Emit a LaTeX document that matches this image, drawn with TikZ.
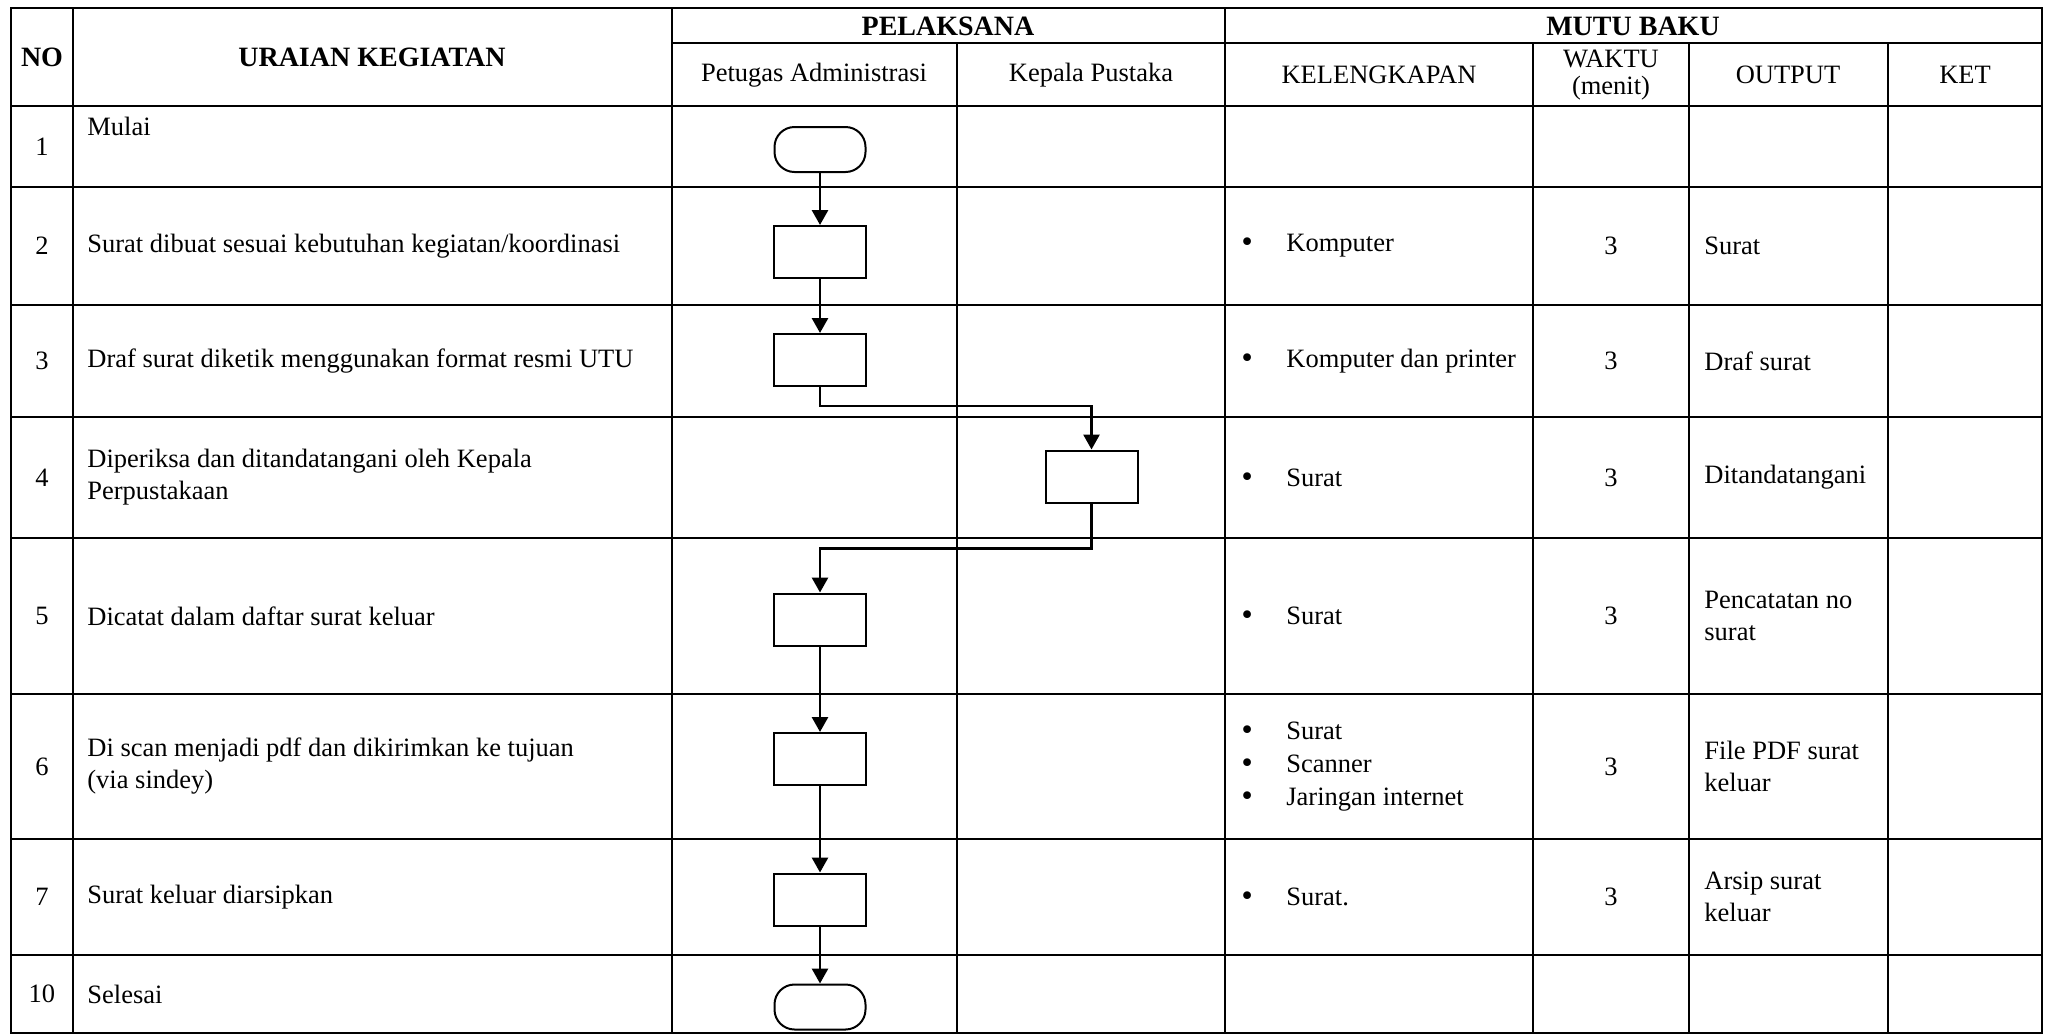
\documentclass[tikz,border=0pt]{standalone}
\usepackage{fontspec}
\setmainfont{Liberation Serif}
\newfontfamily\bulletfont{DejaVu Sans}
\usepackage{tikz}
\usetikzlibrary{arrows.meta,positioning}
\newcommand{\kitem}{\makebox[23.5pt][l]{\bulletfont •}}

\tikzset{
  grid/.style={line width=1.3pt},
  proc/.style={draw, line width=1pt, minimum width=46pt, minimum height=26pt, inner sep=0pt},
  term/.style={proc, rounded corners=10pt, minimum width=45.5pt, minimum height=22.5pt},
  flow/.style={-{Triangle[length=7.5pt,width=8pt]}, line width=1.4pt},
  txt/.style={font=\fontsize{13.25}{16}\selectfont, inner sep=0pt},
  head/.style={font=\fontsize{14}{16}\selectfont\bfseries, inner sep=0pt},
  lefttxt/.style={txt, anchor=west, align=left},
}

\begin{document}
\begin{tikzpicture}[x=0.5pt, y=-0.5pt]
\useasboundingbox (0,0) rectangle (2045,1035);
% table grid
\draw[grid] (11,8) rectangle (2042,1033);
\draw[grid] (672,43) -- (2042,43);
\draw[grid] (11,106) -- (2042,106) (11,187) -- (2042,187) (11,305) -- (2042,305)
  (11,417) -- (2042,417) (11,538) -- (2042,538) (11,694) -- (2042,694)
  (11,839) -- (2042,839) (11,955) -- (2042,955);
\draw[grid] (73,8) -- (73,1033) (672,8) -- (672,1033) (1225,8) -- (1225,1033);
\draw[grid] (957,43) -- (957,1033) (1533,43) -- (1533,1033) (1689,43) -- (1689,1033)
  (1888,43) -- (1888,1033);

% headers
\node[head] (no) at (42,57) {NO};
\node[head] (uraian) at (372,57) {URAIAN KEGIATAN};
\node[head] (pelaksana) at (948,26) {PELAKSANA};
\node[head] (mutu) at (1633,26) {MUTU BAKU};
\node[txt] (petugas) at (814,75) {Petugas Administrasi};
\node[txt] (kepala) at (1091,75) {Kepala Pustaka};
\node[txt] (lengkap) at (1379,75) {KELENGKAPAN};
\node[txt, align=center, font=\fontsize{13.25}{13.5}\selectfont] (waktu) at (1611,75) {WAKTU\\(menit)};
\node[txt] (output) at (1788,75) {OUTPUT};
\node[txt] (ket) at (1965,75) {KET};

% numbers and activities
\node[txt] (n1) at (42,146.5) {1};
\node[txt] (n2) at (42,246) {2};
\node[txt] (n3) at (42,361) {3};
\node[txt] (n4) at (42,477.5) {4};
\node[txt] (n5) at (42,616) {5};
\node[txt] (n6) at (42,766.5) {6};
\node[txt] (n7) at (42,897) {7};
\node[txt] (n10) at (42,994) {10};
\node[lefttxt] (u1) at (87,126) {Mulai};
\node[lefttxt] (u2) at (87,246) {Surat dibuat sesuai kebutuhan kegiatan/koordinasi};
\node[lefttxt] (u3) at (87,361) {Draf surat diketik menggunakan format resmi UTU};
\node[lefttxt] (u4) at (87,477.5) {Diperiksa dan ditandatangani oleh Kepala\\Perpustakaan};
\node[lefttxt] (u5) at (87,616) {Dicatat dalam daftar surat keluar};
\node[lefttxt] (u6) at (87,766.5) {Di scan menjadi pdf dan dikirimkan ke tujuan\\(via sindey)};
\node[lefttxt] (u7) at (87,897) {Surat keluar diarsipkan};
\node[lefttxt] (u10) at (87,994) {Selesai};

% flow shapes
\node[term] (start) at (820,149.5) {};
\node[proc] (s2) at (820,252) {};
\node[proc] (s3) at (820,360) {};
\node[proc] (s4) at (1091.5,476.5) {};
\node[proc] (s5) at (820,619.5) {};
\node[proc] (s6) at (820,759) {};
\node[proc] (s7) at (820,899.5) {};
\node[term] (stop) at (820,1007) {};
\draw[flow] (start) -- (s2);
\draw[flow] (s2) -- (s3);
\draw[flow] (s3.south) -- ++(0,19) -| (s4.north);
\draw[flow] (s4.south) -- ++(0,45) -| (s5.north);
\draw[flow] (s5) -- (s6);
\draw[flow] (s6) -- (s7);
\draw[flow] (s7) -- (stop);

% mutu baku
\node[lefttxt] (k2) at (1239,246) {\kitem Komputer};
\node[lefttxt] (k3) at (1239,361) {\kitem Komputer dan printer};
\node[lefttxt] (k4) at (1239,477.5) {\kitem Surat};
\node[lefttxt] (k5) at (1239,616) {\kitem Surat};
\node[lefttxt, font=\fontsize{13.25}{16.5}\selectfont] (k6) at (1239,766.5) {\kitem Surat\\\kitem Scanner\\\kitem Jaringan internet};
\node[lefttxt] (k7) at (1239,897) {\kitem Surat.};
\node[txt] (w2) at (1611,246) {3};
\node[txt] (w3) at (1611,361) {3};
\node[txt] (w4) at (1611,477.5) {3};
\node[txt] (w5) at (1611,616) {3};
\node[txt] (w6) at (1611,766.5) {3};
\node[txt] (w7) at (1611,897) {3};
\node[lefttxt] (o2) at (1704,246) {Surat};
\node[lefttxt] (o3) at (1704,361) {Draf surat};
\node[lefttxt] (o4) at (1704,477.5) {Ditandatangani};
\node[lefttxt] (o5) at (1704,616) {Pencatatan no\\surat};
\node[lefttxt] (o6) at (1704,766.5) {File PDF surat\\keluar};
\node[lefttxt] (o7) at (1704,897) {Arsip surat\\keluar};
\end{tikzpicture}
\end{document}
